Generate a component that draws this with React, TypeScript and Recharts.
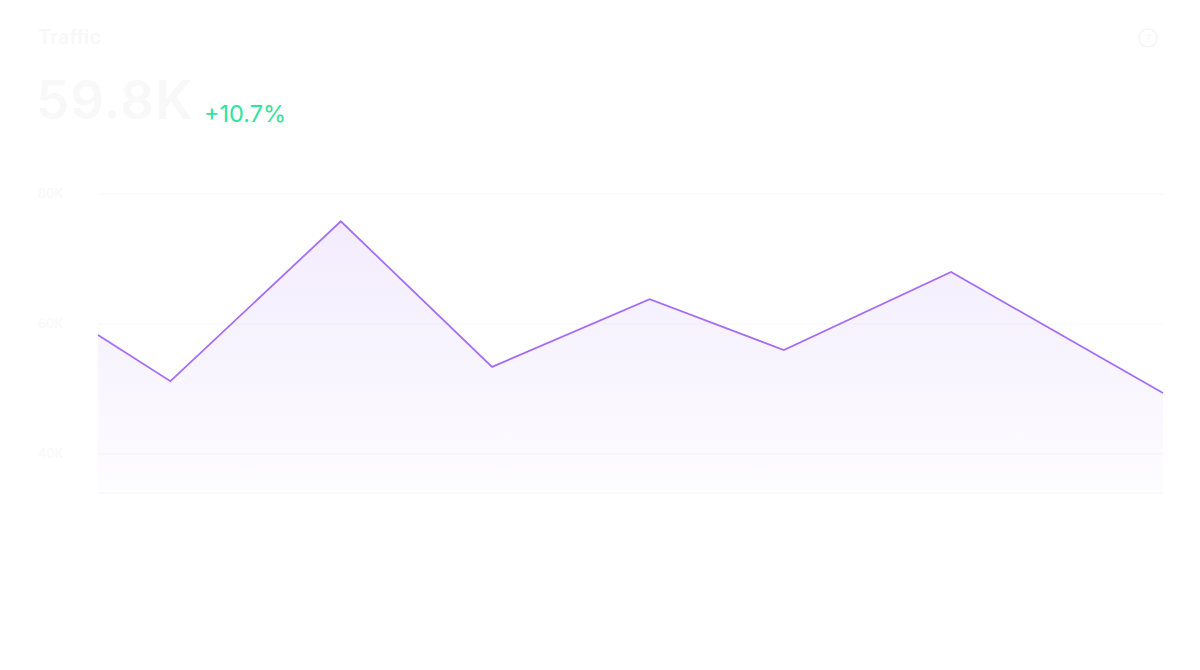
import { AreaChart, Area, XAxis, YAxis, CartesianGrid } from "recharts";

const xPos = [0, 6.8, 22.8, 37, 51.8, 64.4, 80.1, 100];
const visits = [58300, 51200, 75800, 53400, 63800, 56000, 68000, 49400];
const yTicks = [40000, 60000, 80000];

const title = "Traffic";
const total = "59.8K";
const change = "+10.7%";

const data = xPos.map((x, i) => ({ x, visits: visits[i] }));

const fmt = (v: number) => `${Math.round(v / 1000)}K`;

function LeftTick(props: any) {
  const { y, payload } = props;
  return (
    <text x={38} y={y} dy={4} fill="#f8f8f9" fontSize={13} textAnchor="start">
      {fmt(payload.value)}
    </text>
  );
}

export default function App() {
  return (
    <div
      style={{
        position: "absolute",
        left: 0,
        top: 0,
        width: 1200,
        height: 670,
        background: "#fff",
        fontFamily: "Inter, 'Noto Sans', sans-serif",
      }}
    >
      <div style={{ position: "absolute", left: 38, top: 25, fontSize: 20, fontWeight: 600, color: "#f8f8f9" }}>
        {title}
      </div>
      <div style={{ position: "absolute", left: 36, top: 68, fontSize: 53, fontWeight: 600, color: "#f8f8f9", letterSpacing: 1 }}>
        {total}
      </div>
      <div style={{ position: "absolute", left: 204, top: 99, fontSize: 23.5, color: "#2fe3a0" }}>{change}</div>
      <svg style={{ position: "absolute", left: 1137, top: 27 }} width={22} height={22}>
        <circle cx={11} cy={11} r={9} fill="none" stroke="#f6f6f8" strokeWidth={1.5} />
        <text x={11} y={15} textAnchor="middle" fontSize={11} fill="#f6f6f8">?</text>
      </svg>
      <div style={{ position: "absolute", left: 0, top: 0 }}>
        <AreaChart width={1200} height={670} data={data} margin={{ top: 194, right: 37, bottom: 177, left: 0 }}>
          <defs>
            <linearGradient id="trafficFill" x1="0" y1="0" x2="0" y2="1">
              <stop offset="0%" stopColor="#a46ef8" stopOpacity={0.22} />
              <stop offset="100%" stopColor="#a46ef8" stopOpacity={0.03} />
            </linearGradient>
          </defs>
          <CartesianGrid vertical={false} stroke="#f7f7f9" />
          <XAxis dataKey="x" type="number" domain={[0, 100]} hide />
          <YAxis
            width={98}
            domain={[34000, 80000]}
            ticks={yTicks}
            axisLine={false}
            tickLine={false}
            tick={<LeftTick />}
          />
          <Area
            type="linear"
            dataKey="visits"
            stroke="#a56cf8"
            strokeWidth={1.75}
            fill="url(#trafficFill)"
            dot={false}
            isAnimationActive={false}
          />
        </AreaChart>
      </div>
    </div>
  );
}
